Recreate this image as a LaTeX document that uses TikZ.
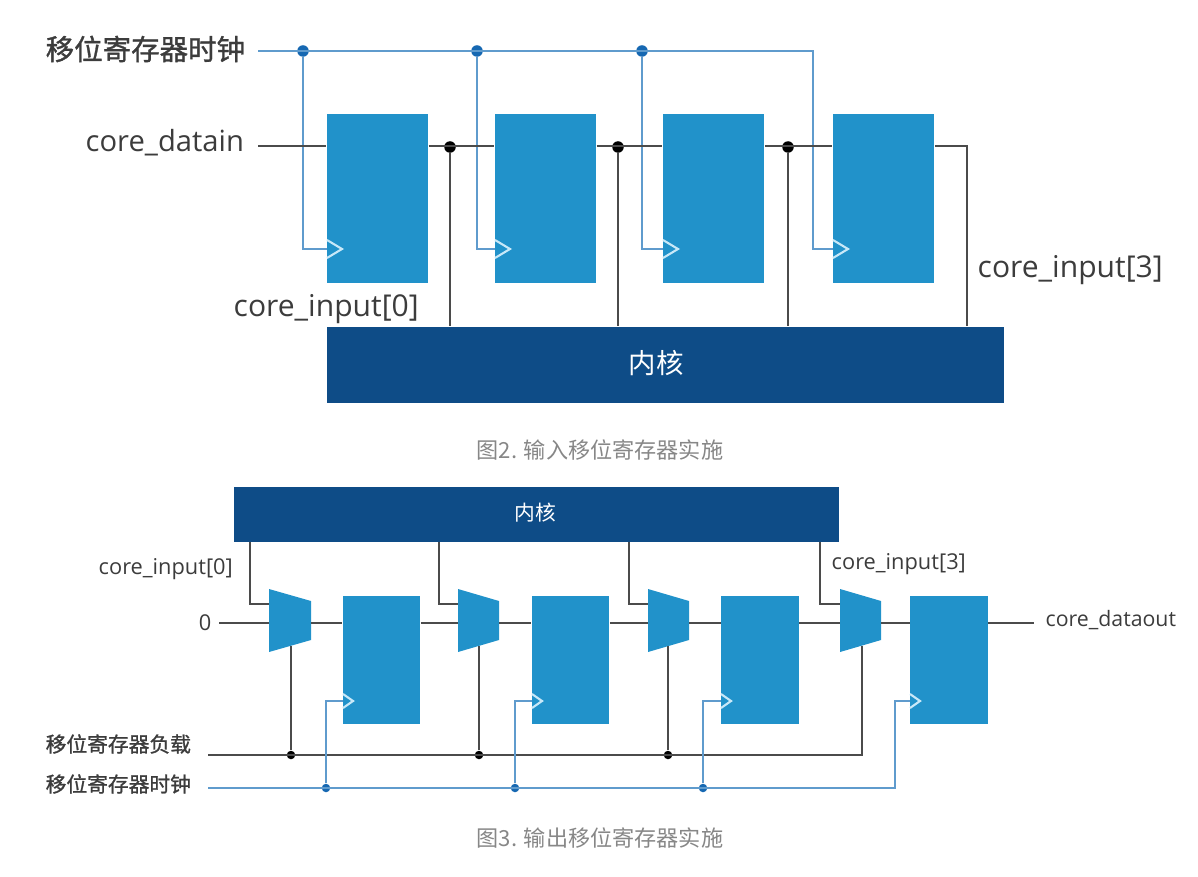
\documentclass[tikz,border=0pt]{standalone}
\usepackage{fontspec}
\setmainfont{Open Sans}
\newfontfamily\cjk{Noto Sans CJK SC}
\newfontfamily\cjkheavy[FakeBold=1.2]{Noto Sans CJK SC}
\usetikzlibrary{calc}
\definecolor{myblue}{RGB}{33, 146, 202}
\definecolor{mynavy}{RGB}{14, 76, 135}
\definecolor{myclk}{RGB}{95, 155, 205}
\definecolor{mydot}{RGB}{22, 104, 178}
\definecolor{mywire}{RGB}{75, 75, 75}
\definecolor{mytext}{RGB}{60, 60, 60}
\definecolor{mygray}{RGB}{135, 135, 135}
\definecolor{mymark}{RGB}{200, 232, 248}
\tikzset{
  bigreg/.style = {fill = myblue, minimum width = 1.01cm, minimum height = 1.69cm, inner sep = 0},
  smallreg/.style = {fill = myblue, minimum width = 0.775cm, minimum height = 1.28cm, inner sep = 0},
  corebox/.style = {fill = mynavy, inner sep = 0},
  wire/.style = {draw = mywire, line width = 0.6pt},
  clkwire/.style = {draw = myclk, line width = 0.8pt},
  clkmark/.style = {draw = mymark, line width = 0.6pt},
  muxshape/.style = {fill = myblue},
  bigjoin/.style = {circle, fill = black, minimum size = 0.115cm, inner sep = 0},
  bigclk/.style = {circle, fill = mydot, minimum size = 0.115cm, inner sep = 0},
  smalljoin/.style = {circle, fill = black, minimum size = 0.085cm, inner sep = 0},
  smallclk/.style = {circle, fill = mydot, minimum size = 0.085cm, inner sep = 0},
  biglabel/.style = {text = mytext, font = \fontsize{8.55}{10}\selectfont, inner sep = 0},
  smalllabel/.style = {text = mytext, font = \fontsize{6.2}{8}\selectfont, inner sep = 0},
  caption/.style = {text = mygray, font = \cjk\fontsize{6.3}{8}\selectfont, inner sep = 0}
}
\begin{document}
\begin{tikzpicture}[x = 0.01cm, y = -0.01cm]
\useasboundingbox (0,0) rectangle (1198,876);
% upper figure
\node[bigreg] (regA) at (377.5, 198.5) {};
\node[bigreg] (regB) at (545.5, 198.5) {};
\node[bigreg] (regC) at (713.5, 198.5) {};
\node[bigreg] (regD) at (883.5, 198.5) {};
\node[corebox, minimum width = 6.77cm, minimum height = 0.76cm] (coreU) at (665.5, 365) {};
\node[text = white, font = \cjk\fontsize{7.8}{9}\selectfont, inner sep = 0] (coreUname) at (656, 363) {内核};
\node[biglabel, font = \cjkheavy\fontsize{8.1}{10}\selectfont, anchor = west] (clkU) at (45, 49) {移位寄存器时钟};
\node[biglabel, font = \fontsize{8.3}{10}\selectfont, anchor = west] (datain) at (85, 143) {core\_datain};
\node[biglabel, anchor = west] (inputU0) at (233, 309) {core\_input[0]};
\node[biglabel, anchor = west] (inputU3) at (977, 270) {core\_input[3]};
\node[caption] (capU) at (600, 450) {图2. 输入移位寄存器实施};
\coordinate (clkUin) at (258, 51);
\coordinate (clkUend) at (813, 51);
\coordinate (dataU) at (258, 146);
\coordinate (clkUa) at (327, 249);
\coordinate (clkUb) at (495, 249);
\coordinate (clkUc) at (663, 249);
\coordinate (clkUd) at (833, 249);
\coordinate (outU) at (967, 146);
\node[bigclk] (tapA) at (303, 51) {};
\node[bigclk] (tapB) at (477, 51) {};
\node[bigclk] (tapC) at (642, 51) {};
\node[bigjoin] (joinA) at (450, 147) {};
\node[bigjoin] (joinB) at (618, 147) {};
\node[bigjoin] (joinC) at (788, 147) {};
\draw[clkwire] (clkUin) -- (clkUend) -- (clkUend |- clkUd) -- (clkUd);
\draw[clkwire] (tapA) -- (tapA |- clkUa) -- (clkUa);
\draw[clkwire] (tapB) -- (tapB |- clkUb) -- (clkUb);
\draw[clkwire] (tapC) -- (tapC |- clkUc) -- (clkUc);
\draw[wire] (dataU) -- (dataU -| regA.west);
\draw[wire] (dataU -| regA.east) -- (dataU -| regB.west);
\draw[wire] (dataU -| regB.east) -- (dataU -| regC.west);
\draw[wire] (dataU -| regC.east) -- (dataU -| regD.west);
\draw[wire] (dataU -| regD.east) -- (outU) -- (outU |- coreU.north);
\draw[wire] (joinA) -- (joinA |- coreU.north);
\draw[wire] (joinB) -- (joinB |- coreU.north);
\draw[wire] (joinC) -- (joinC |- coreU.north);
\draw[clkmark] ($(clkUa) + (0,-9)$) -- ($(clkUa) + (15,0)$) -- ($(clkUa) + (0,9)$);
\draw[clkmark] ($(clkUb) + (0,-9)$) -- ($(clkUb) + (15,0)$) -- ($(clkUb) + (0,9)$);
\draw[clkmark] ($(clkUc) + (0,-9)$) -- ($(clkUc) + (15,0)$) -- ($(clkUc) + (0,9)$);
\draw[clkmark] ($(clkUd) + (0,-9)$) -- ($(clkUd) + (15,0)$) -- ($(clkUd) + (0,9)$);
% lower figure
\node[smallreg] (regE) at (381.5, 660) {};
\node[smallreg] (regF) at (570.5, 660) {};
\node[smallreg] (regG) at (760, 660) {};
\node[smallreg] (regH) at (949, 660) {};
\node[corebox, minimum width = 6.05cm, minimum height = 0.55cm] (coreL) at (536.5, 514.5) {};
\node[text = white, font = \cjk\fontsize{5.9}{7}\selectfont, inner sep = 0] (coreLname) at (535, 513) {内核};
\fill[muxshape] (269, 589) -- (311, 601) -- (311, 640) -- (269, 652) -- cycle;
\fill[muxshape] (458, 589) -- (499, 601) -- (499, 640) -- (458, 652) -- cycle;
\fill[muxshape] (648, 589) -- (689, 601) -- (689, 640) -- (648, 652) -- cycle;
\fill[muxshape] (840, 589) -- (881, 601) -- (881, 640) -- (840, 652) -- cycle;
\node[smalllabel, anchor = west] (inputL0) at (98, 569) {core\_input[0]};
\node[smalllabel, anchor = west] (inputL3) at (831, 564) {core\_input[3]};
\node[smalllabel, anchor = east] (zero) at (212, 623) {0};
\node[smalllabel, font = \fontsize{6.05}{8}\selectfont, anchor = west] (dataout) at (1045, 620) {core\_dataout};
\node[smalllabel, font = \cjkheavy\fontsize{5.9}{7}\selectfont, anchor = west] (loadL) at (45, 744) {移位寄存器负载};
\node[smalllabel, font = \cjkheavy\fontsize{5.9}{7}\selectfont, anchor = west] (clkL) at (45, 784) {移位寄存器时钟};
\node[caption] (capL) at (600, 838) {图3. 输出移位寄存器实施};
\coordinate (dataL) at (219, 623);
\coordinate (outL) at (1034, 623);
\coordinate (muxAin) at (269, 623);
\coordinate (muxAout) at (311, 623);
\coordinate (muxBin) at (458, 623);
\coordinate (muxBout) at (499, 623);
\coordinate (muxCin) at (648, 623);
\coordinate (muxCout) at (689, 623);
\coordinate (muxDin) at (840, 623);
\coordinate (muxDout) at (881, 623);
\coordinate (feedA) at (269, 604);
\coordinate (feedB) at (458, 604);
\coordinate (feedC) at (648, 604);
\coordinate (feedD) at (840, 604);
\coordinate (dropA) at (250, 542);
\coordinate (dropB) at (439, 542);
\coordinate (dropC) at (629, 542);
\coordinate (dropD) at (820, 542);
\coordinate (loadIn) at (208, 755);
\coordinate (loadEnd) at (862, 755);
\coordinate (clkLin) at (208, 788);
\coordinate (clkLend) at (895, 788);
\coordinate (clkLa) at (343, 701);
\coordinate (clkLb) at (532, 701);
\coordinate (clkLc) at (721, 701);
\coordinate (clkLd) at (910, 701);
\coordinate (selA) at (291, 646);
\coordinate (selB) at (479, 646);
\coordinate (selC) at (668, 646);
\coordinate (selD) at (862, 646);
\node[smalljoin] (loadA) at (291, 755) {};
\node[smalljoin] (loadB) at (479, 755) {};
\node[smalljoin] (loadC) at (668, 755) {};
\node[smallclk] (tapE) at (326, 788) {};
\node[smallclk] (tapF) at (515, 788) {};
\node[smallclk] (tapG) at (703, 788) {};
\draw[wire] (dropA) |- (feedA);
\draw[wire] (dropB) |- (feedB);
\draw[wire] (dropC) |- (feedC);
\draw[wire] (dropD) |- (feedD);
\draw[wire] (dataL) -- (muxAin);
\draw[wire] (muxAout) -- (muxAout -| regE.west);
\draw[wire] (muxBin -| regE.east) -- (muxBin);
\draw[wire] (muxBout) -- (muxBout -| regF.west);
\draw[wire] (muxCin -| regF.east) -- (muxCin);
\draw[wire] (muxCout) -- (muxCout -| regG.west);
\draw[wire] (muxDin -| regG.east) -- (muxDin);
\draw[wire] (muxDout) -- (muxDout -| regH.west);
\draw[wire] (outL -| regH.east) -- (outL);
\draw[wire] (loadIn) -- (loadEnd) -- (selD);
\draw[wire] (loadA) -- (selA);
\draw[wire] (loadB) -- (selB);
\draw[wire] (loadC) -- (selC);
\draw[clkwire, line width = 0.55pt] (clkLin) -- (clkLend) -- (clkLend |- clkLd) -- (clkLd);
\draw[clkwire, line width = 0.55pt] (tapE) -- (tapE |- clkLa) -- (clkLa);
\draw[clkwire, line width = 0.55pt] (tapF) -- (tapF |- clkLb) -- (clkLb);
\draw[clkwire, line width = 0.55pt] (tapG) -- (tapG |- clkLc) -- (clkLc);
\draw[clkmark] ($(clkLa) + (0,-7)$) -- ($(clkLa) + (10,0)$) -- ($(clkLa) + (0,7)$);
\draw[clkmark] ($(clkLb) + (0,-7)$) -- ($(clkLb) + (10,0)$) -- ($(clkLb) + (0,7)$);
\draw[clkmark] ($(clkLc) + (0,-7)$) -- ($(clkLc) + (10,0)$) -- ($(clkLc) + (0,7)$);
\draw[clkmark] ($(clkLd) + (0,-7)$) -- ($(clkLd) + (10,0)$) -- ($(clkLd) + (0,7)$);
\end{tikzpicture}
\end{document}
